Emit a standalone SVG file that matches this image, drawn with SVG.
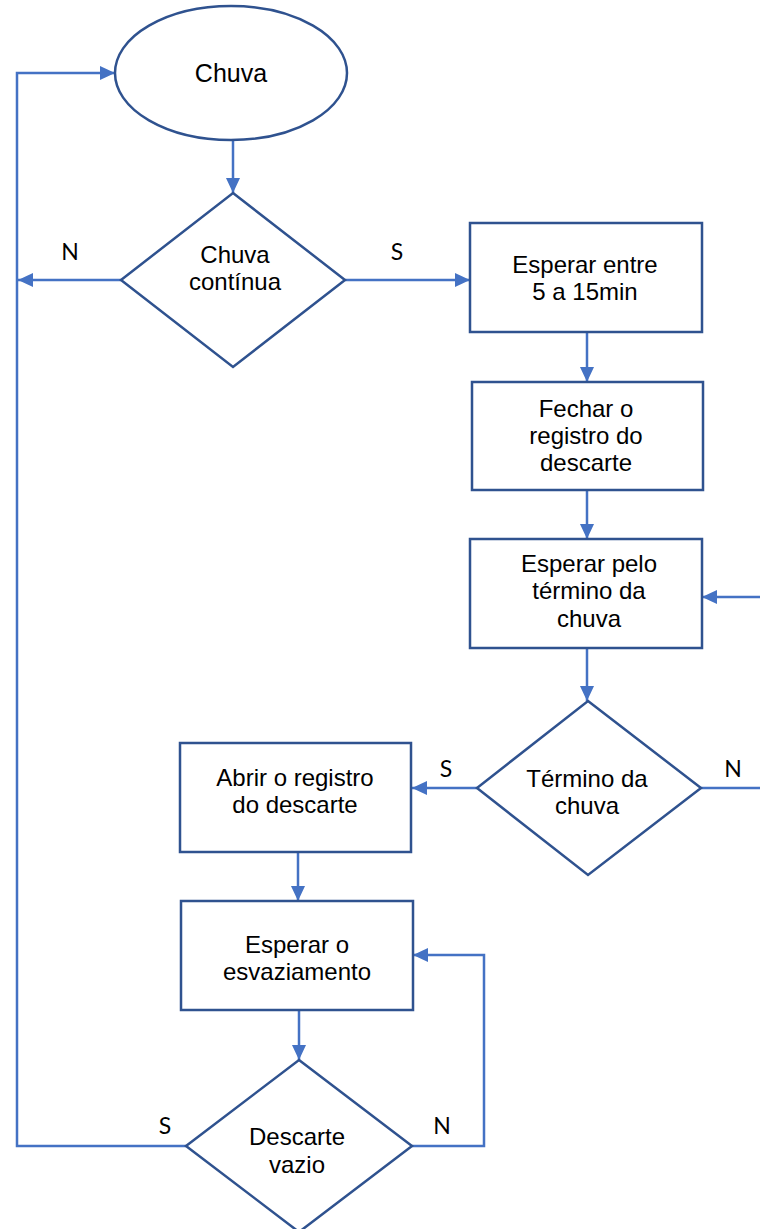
<svg xmlns="http://www.w3.org/2000/svg" width="760" height="1229" viewBox="0 0 760 1229">
  <style>
    .node { fill: #ffffff; stroke: #2F528F; stroke-width: 2.5; }
    .edge { fill: none; stroke: #4472C4; stroke-width: 2.5; }
    .arrow { marker-end: url(#head); }
    text { font-family: "Liberation Sans", Arial, sans-serif; font-size: 24px; fill: #000000; text-anchor: middle; }
    .lbl { font-family: Lato, "Open Sans", sans-serif; font-size: 23px; }
  </style>
  <defs>
    <marker id="head" markerUnits="userSpaceOnUse" markerWidth="16" markerHeight="16" refX="15" refY="7" orient="auto">
      <path d="M0,0 L15,7 L0,14 z" fill="#4472C4"/>
    </marker>
  </defs>
  <rect width="760" height="1229" fill="#ffffff"/>

  <!-- connectors -->
  <g id="connectors">
    <path class="edge arrow" d="M233,140 V193"/>
    <path class="edge arrow" d="M345,280 H470"/>
    <path class="edge arrow" d="M121,280 H18"/>
    <path class="edge arrow" d="M587,332 V382"/>
    <path class="edge arrow" d="M587,490 V539"/>
    <path class="edge arrow" d="M587,648 V701"/>
    <path class="edge arrow" d="M701,788 H763 V597 H702"/>
    <path class="edge arrow" d="M477,788 H412"/>
    <path class="edge arrow" d="M298,852 V901"/>
    <path class="edge arrow" d="M299,1010 V1060"/>
    <path class="edge arrow" d="M412,1146 H484 V955 H413"/>
    <path class="edge arrow" d="M186,1146 H17 V73 H115"/>
    <text class="lbl" x="70" y="260">N</text>
    <text class="lbl" x="397" y="260">S</text>
    <text class="lbl" x="446" y="777">S</text>
    <text class="lbl" x="733" y="777">N</text>
    <text class="lbl" x="165" y="1134">S</text>
    <text class="lbl" x="442" y="1134">N</text>
  </g>

  <!-- start -->
  <g id="start">
    <ellipse class="node" cx="231" cy="73" rx="116" ry="67"/>
    <text x="231" y="82" style="font-size:25px">Chuva</text>
  </g>

  <!-- decision: continuous rain -->
  <g id="chuva-continua">
    <polygon class="node" points="233,193 345,280 233,367 121,280"/>
    <text x="235" y="263">Chuva</text>
    <text x="235" y="290">contínua</text>
  </g>

  <g id="esperar-entre">
    <rect class="node" x="470" y="223" width="232" height="109"/>
    <text x="585" y="273">Esperar entre</text>
    <text x="585" y="300">5 a 15min</text>
  </g>

  <g id="fechar-registro">
    <rect class="node" x="472" y="382" width="231" height="108"/>
    <text x="586" y="417">Fechar o</text>
    <text x="586" y="444">registro do</text>
    <text x="586" y="471">descarte</text>
  </g>

  <g id="esperar-termino">
    <rect class="node" x="470" y="539" width="232" height="109"/>
    <text x="589" y="572">Esperar pelo</text>
    <text x="589" y="599">término da</text>
    <text x="589" y="627">chuva</text>
  </g>

  <!-- decision: end of rain -->
  <g id="termino-chuva">
    <polygon class="node" points="588,701 701,788 588,875 477,788"/>
    <text x="587" y="787">Término da</text>
    <text x="587" y="814">chuva</text>
  </g>

  <g id="abrir-registro">
    <rect class="node" x="180" y="743" width="231" height="109"/>
    <text x="295" y="786">Abrir o registro</text>
    <text x="295" y="813">do descarte</text>
  </g>

  <g id="esperar-esvaziamento">
    <rect class="node" x="181" y="901" width="232" height="109"/>
    <text x="297" y="953">Esperar o</text>
    <text x="297" y="980">esvaziamento</text>
  </g>

  <!-- decision: discard empty -->
  <g id="descarte-vazio">
    <polygon class="node" points="299,1060 412,1146 299,1232 186,1146"/>
    <text x="297" y="1145">Descarte</text>
    <text x="297" y="1173">vazio</text>
  </g>
</svg>
